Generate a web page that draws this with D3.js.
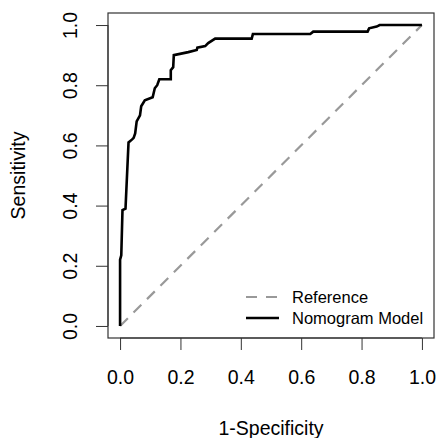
<!DOCTYPE html>
<html>
<head>
<meta charset="utf-8">
<script src="https://cdn.jsdelivr.net/npm/d3@7"></script>
<style>
  body { margin: 0; background: #fff; }
  text { font-family: "Liberation Sans", Arial, sans-serif; fill: #000; }
</style>
</head>
<body>
<svg id="chart" width="438" height="438"></svg>
<script>
"use strict";

// ROC curve
var fpr = [0, 0, 0.004, 0.008, 0.018, 0.028, 0.04, 0.045, 0.05, 0.055, 0.066, 0.07, 0.082,
  0.108, 0.115, 0.123, 0.13, 0.168, 0.168, 0.176, 0.178, 0.226, 0.254, 0.256, 0.282, 0.292,
  0.315, 0.436, 0.44, 0.63, 0.64, 0.82, 0.825, 0.85, 0.86, 1.0];
var tpr = [0, 0.22, 0.235, 0.385, 0.39, 0.61, 0.62, 0.625, 0.64, 0.68, 0.70, 0.73, 0.75,
  0.76, 0.79, 0.80, 0.82, 0.82, 0.85, 0.86, 0.90, 0.91, 0.917, 0.925, 0.93, 0.94,
  0.955, 0.955, 0.97, 0.97, 0.978, 0.978, 0.989, 0.995, 1.0, 1.0];
var refX = [0, 1];
var refY = [0, 1];
var ticks = [0, 0.2, 0.4, 0.6, 0.8, 1.0];
var legendLabels = ["Reference", "Nomogram Model"];

var svg = d3.select("#chart");
var x = d3.scaleLinear().domain([-0.04, 1.04]).range([108, 434]);
var y = d3.scaleLinear().domain([-0.04, 1.04]).range([338, 13]);
var FONT = 19.5;

// x axis
var xAxis = svg.append("g").attr("transform", "translate(0,338)")
  .call(d3.axisBottom(x).tickValues(ticks).tickFormat(d3.format(".1f")).tickSize(12).tickSizeOuter(0));
xAxis.select(".domain").attr("d", "M" + x(0) + ",0H" + x(1));
xAxis.selectAll("text").attr("font-size", FONT).attr("dy", 0).attr("y", 46)
  .attr("font-family", "Liberation Sans, Arial, sans-serif");

// y axis
var yAxis = svg.append("g").attr("transform", "translate(108,0)")
  .call(d3.axisLeft(y).tickValues(ticks).tickFormat(d3.format(".1f")).tickSize(12).tickSizeOuter(0));
yAxis.select(".domain").attr("d", "M0," + y(0) + "V" + y(1));
yAxis.selectAll("text").attr("font-size", FONT).attr("x", 0).attr("dy", 0)
  .attr("text-anchor", "middle")
  .attr("font-family", "Liberation Sans, Arial, sans-serif")
  .attr("transform", "translate(-38,0) rotate(-90)")
  .attr("y", 0).attr("dy", "0.35em");
svg.selectAll(".tick line, .domain").attr("stroke", "#333");

// plot box
svg.append("rect").attr("x", 108).attr("y", 13).attr("width", 326).attr("height", 325)
  .attr("fill", "none").attr("stroke", "#333").attr("stroke-width", 1.2);

var line = d3.line().x(function(d) { return x(d[0]); }).y(function(d) { return y(d[1]); });

svg.append("path").datum(d3.zip(refX, refY)).attr("d", line)
  .attr("fill", "none").attr("stroke", "#999").attr("stroke-width", 2.2)
  .attr("stroke-dasharray", "11,8");

svg.append("path").datum(d3.zip(fpr, tpr)).attr("d", line)
  .attr("fill", "none").attr("stroke", "#000").attr("stroke-width", 2.6)
  .attr("stroke-linejoin", "miter");

// legend
var legend = svg.append("g");
legendLabels.forEach(function(lab, i) {
  var ly = 297 + i * 21;
  legend.append("line").attr("x1", 246).attr("x2", 279).attr("y1", ly).attr("y2", ly)
    .attr("stroke", i === 0 ? "#999" : "#000").attr("stroke-width", i === 0 ? 2.2 : 2.6)
    .attr("stroke-dasharray", i === 0 ? "11,9" : null);
  legend.append("text").attr("x", 292).attr("y", ly).attr("dy", "0.35em")
    .attr("font-size", 16.5).text(lab);
});

// axis titles
svg.append("text").attr("x", x(0.5)).attr("y", 428).attr("dy", "0.35em")
  .attr("text-anchor", "middle").attr("font-size", FONT).text("1-Specificity");
svg.append("text").attr("transform", "translate(18," + y(0.5) + ") rotate(-90)")
  .attr("dy", "0.35em").attr("text-anchor", "middle").attr("font-size", FONT).text("Sensitivity");
</script>
</body>
</html>
